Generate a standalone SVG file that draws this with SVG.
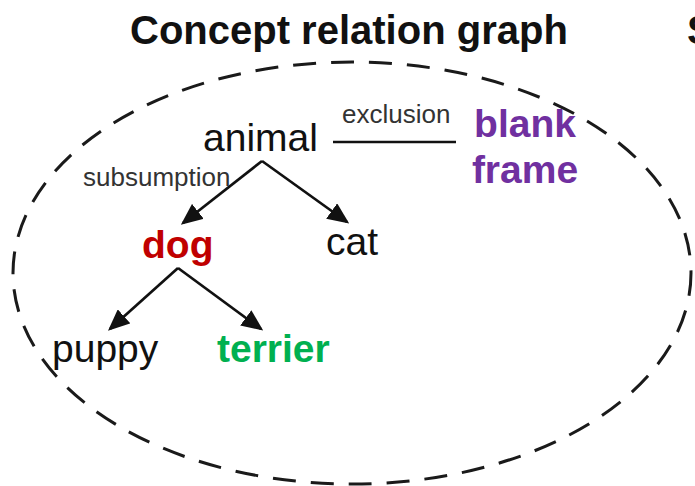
<svg xmlns="http://www.w3.org/2000/svg" width="695" height="486" viewBox="0 0 695 486">
<defs>
<marker id="ah" markerWidth="8" markerHeight="7" refX="7" refY="3.5" orient="auto" markerUnits="strokeWidth">
<path d="M0,0 L8,3.5 L0,7 Z" fill="#111"/>
</marker>
<style>
text{font-family:"Liberation Sans",Arial,sans-serif;}
.t{font-size:40px;font-weight:bold;fill:#111;}
.n{font-size:39px;fill:#111;}
.b{font-size:39px;font-weight:bold;}
.l{font-size:26px;fill:#333;}
.c{stroke:#111;stroke-width:2.7;fill:none;}
</style>
</defs>
<rect width="695" height="486" fill="#fff"/>
<text class="t" x="130" y="44">Concept relation graph</text>
<text class="t" x="687" y="44">S</text>
<ellipse id="frame" cx="352" cy="273" rx="339" ry="211" fill="none" stroke="#1a1a1a" stroke-width="3" stroke-dasharray="23 15"/>
<g id="connectors">
<line class="c" x1="262" y1="161" x2="183" y2="223" marker-end="url(#ah)"/>
<line class="c" x1="262" y1="161" x2="347" y2="222" marker-end="url(#ah)"/>
<line class="c" x1="178" y1="268" x2="110" y2="329" marker-end="url(#ah)"/>
<line class="c" x1="178" y1="268" x2="261" y2="329" marker-end="url(#ah)"/>
<line class="c" x1="333" y1="142" x2="456" y2="142"/>
<text class="l" x="83" y="186">subsumption</text>
<text class="l" x="342" y="123">exclusion</text>
</g>
<g id="animal"><text class="n" x="203" y="151">animal</text></g>
<g id="blank-frame"><text class="b" fill="#7030A0" x="525" y="137" text-anchor="middle">blank</text><text class="b" fill="#7030A0" x="525" y="183" text-anchor="middle">frame</text></g>
<g id="dog"><text class="b" fill="#C00000" x="142" y="258">dog</text></g>
<g id="cat"><text class="n" x="326" y="255">cat</text></g>
<g id="puppy"><text class="n" x="52" y="362">puppy</text></g>
<g id="terrier"><text class="b" fill="#00B050" x="217" y="362">terrier</text></g>
</svg>
